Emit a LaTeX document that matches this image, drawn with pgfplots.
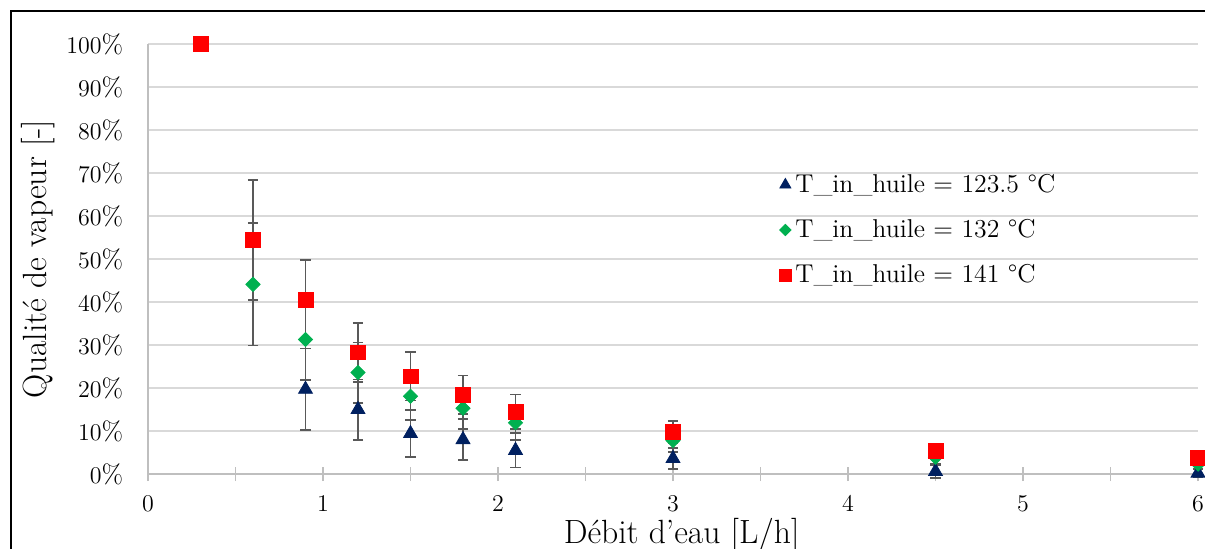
\documentclass[border=0pt]{standalone}
\usepackage{pgfplots}
\pgfplotsset{compat=1.18}
\usepackage{pgfplotstable}
\definecolor{cblue}{HTML}{002060}
\definecolor{cgreen}{HTML}{00B050}
\definecolor{cred}{HTML}{FF0000}
\definecolor{errc}{HTML}{595959}
\definecolor{gridc}{HTML}{D9D9D9}
\definecolor{axc}{HTML}{BFBFBF}

\pgfplotstableread{
x y e
0.9 19.7 9.5
1.2 15.0 7.0
1.5 9.4 5.4
1.8 8.0 4.7
2.1 5.5 4.0
3.0 3.6 2.5
4.5 0.6 1.5
6.0 0.2 1.0
}\tblue
\pgfplotstableread{
x y e
0.6 44.1 14.2
0.9 31.3 9.4
1.2 23.6 7.0
1.5 18.1 5.5
1.8 15.3 4.8
2.1 11.9 4.0
3.0 7.8 2.6
4.5 3.9 1.5
6.0 2.3 1.0
}\tgreen
\pgfplotstableread{
x y e
0.3 100.0 0
0.6 54.4 14.0
0.9 40.5 9.2
1.2 28.3 6.9
1.5 22.7 5.6
1.8 18.4 4.5
2.1 14.5 4.0
3.0 9.7 2.6
4.5 5.4 1.6
6.0 3.7 1.0
}\tred

\pgfplotsset{errplot/.style={forget plot, only marks, mark=-, mark size=0pt, color=errc, line width=0.9pt,
  error bars/.cd, y dir=both, y explicit, error mark=-,
  error bar style={color=errc, line width=0.9pt},
  error mark options={rotate=90, color=errc, line width=0.9pt, mark size=2.6pt}}}

\begin{document}
\begin{tikzpicture}
\begin{axis}[
  at={(74pt,37pt)}, anchor=south west,
  scale only axis, width=525pt, height=215pt,
  xmin=0, xmax=6, ymin=0, ymax=100,
  clip=false,
  axis x line=bottom, axis y line=left,
  axis line style={draw=axc, line width=0.75pt, -},
  xtick={0,1,...,6},
  minor xtick={0.5,1.5,2.5,3.5,4.5,5.5},
  ytick={0,10,...,100},
  ymajorgrids,
  grid style={draw=gridc, line width=0.75pt},
  tick align=center,
  major tick length=7pt, minor tick length=7pt,
  xtick style={draw=axc, line width=0.75pt},
  minor x tick style={draw=axc, line width=0.75pt},
  ytick style={draw=none},
  yticklabel={$\pgfmathprintnumber{\tick}$\%},
  tick label style={font=\fontsize{13.2}{15}\selectfont},
  yticklabel style={anchor=east, xshift=-5.4pt},
  xticklabel style={anchor=base, yshift=-15pt},
  xlabel={Débit d'eau [L/h]},
  ylabel={Qualité de vapeur [-]},
  xlabel style={at={(axis description cs:0.5082,-0.161)}, anchor=base, font=\fontsize{16.8}{20}\selectfont},
  ylabel style={at={(axis description cs:-0.0966,0.5)}, anchor=base, font=\fontsize{16.8}{20}\selectfont},
  legend style={draw=none, fill=none, at={(axis description cs:0.601,0.5674)}, anchor=west,
    font=\fontsize{12.9}{15}\selectfont, row sep=8pt, inner sep=0pt},
  legend cell align=left,
  legend image code/.code={\draw[mark repeat=2,mark phase=2,#1,every mark/.append style={scale=0.8}] plot coordinates {(-4pt,0pt) (0pt,0pt) (4pt,0pt)};},
]
\addplot[errplot] table[x=x, y=y, y error=e]{\tblue};
\addplot[errplot] table[x=x, y=y, y error=e]{\tgreen};
\addplot[errplot] table[x=x, y=y, y error=e]{\tred};
\addplot[only marks, mark=triangle*, mark size=4pt, draw=cblue, fill=cblue] table[x=x, y=y]{\tblue};
\addlegendentry{T\_in\_huile = 123.5 °C}
\addplot[only marks, mark=square*, mark size=2.5pt, mark options={rotate=45}, draw=cgreen, fill=cgreen] table[x=x, y=y]{\tgreen};
\addlegendentry{T\_in\_huile = 132 °C}
\addplot[only marks, mark=square*, mark size=3.7pt, draw=cred, fill=cred] table[x=x, y=y]{\tred};
\addlegendentry{T\_in\_huile = 141 °C}
\end{axis}
\draw[black, line width=1pt] (5.5pt,-10pt) -- (5.5pt,268.5pt) -- (620pt,268.5pt);
\pgfresetboundingbox
\useasboundingbox (0,0) rectangle (602.5pt,274pt);
\end{tikzpicture}
\end{document}
